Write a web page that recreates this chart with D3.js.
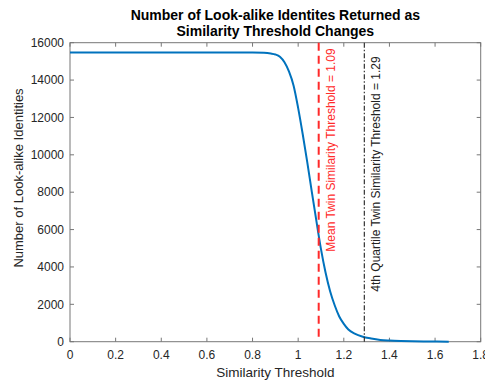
<!DOCTYPE html>
<html>
<head>
<meta charset="utf-8">
<script src="https://cdn.jsdelivr.net/npm/d3@7"></script>
<style>
  body { margin: 0; background: #fff; }
  text { font-family: "Liberation Sans", Arial, sans-serif; }
</style>
</head>
<body>
<div id="chart"></div>
<script>
// data
const thresholds = [0, 0.2, 0.4, 0.6, 0.8, 0.85, 0.88, 0.9, 0.92, 0.94, 0.96, 0.98, 1.0, 1.02, 1.04, 1.06, 1.08, 1.10, 1.12, 1.14, 1.16, 1.18, 1.20, 1.22, 1.25, 1.28, 1.32, 1.36, 1.40, 1.45, 1.50, 1.55, 1.60, 1.66];
const counts = [15480, 15480, 15480, 15480, 15475, 15460, 15420, 15370, 15250, 14950, 14450, 13700, 12500, 11100, 9600, 8000, 6450, 4950, 3700, 2700, 1950, 1350, 950, 650, 420, 280, 170, 95, 60, 35, 20, 12, 6, 3];
const xTicks = [0, 0.2, 0.4, 0.6, 0.8, 1, 1.2, 1.4, 1.6, 1.8];
const yTicks = [0, 2000, 4000, 6000, 8000, 10000, 12000, 14000, 16000];
const meanThreshold = 1.09;
const quartileThreshold = 1.29;

const W = 485, H = 381;
const margin = { top: 42.7, right: 4.3, bottom: 39.3, left: 70 };
const width = W - margin.left - margin.right,
      height = H - margin.top - margin.bottom;

const svg = d3.select("#chart").append("svg")
    .attr("width", W)
    .attr("height", H);

const g = svg.append("g")
    .attr("transform", "translate(" + margin.left + "," + margin.top + ")");

const x = d3.scaleLinear().domain([0, 1.8]).range([0, width]);
const y = d3.scaleLinear().domain([0, 16000]).range([height, 0]);

const axisColor = "#777";
const labelColor = "#262626";

// box
g.append("rect")
    .attr("width", width)
    .attr("height", height)
    .attr("fill", "none")
    .attr("stroke", axisColor)
    .attr("stroke-width", 1);

// ticks (inside, all four sides)
const tickLen = 4;
xTicks.forEach(function(t) {
    g.append("line").attr("x1", x(t)).attr("x2", x(t)).attr("y1", height).attr("y2", height - tickLen)
        .attr("stroke", axisColor);
    g.append("line").attr("x1", x(t)).attr("x2", x(t)).attr("y1", 0).attr("y2", tickLen)
        .attr("stroke", axisColor);
    g.append("text")
        .attr("x", x(t))
        .attr("y", height + 17)
        .attr("text-anchor", "middle")
        .attr("font-size", 12)
        .attr("fill", labelColor)
        .text(t);
});

yTicks.forEach(function(t) {
    g.append("line").attr("x1", 0).attr("x2", tickLen).attr("y1", y(t)).attr("y2", y(t))
        .attr("stroke", axisColor);
    g.append("line").attr("x1", width).attr("x2", width - tickLen).attr("y1", y(t)).attr("y2", y(t))
        .attr("stroke", axisColor);
    g.append("text")
        .attr("x", -6)
        .attr("y", y(t))
        .attr("dy", "0.35em")
        .attr("text-anchor", "end")
        .attr("font-size", 12)
        .attr("fill", labelColor)
        .text(t);
});

// curve
const data = thresholds.map(function(d, i) { return { t: d, n: counts[i] }; });
const line = d3.line()
    .x(function(d) { return x(d.t); })
    .y(function(d) { return y(d.n); })
    .curve(d3.curveMonotoneX);

g.append("path")
    .datum(data)
    .attr("fill", "none")
    .attr("stroke", "#0072BD")
    .attr("stroke-width", 2)
    .attr("d", line);

// threshold lines
g.append("line")
    .attr("x1", x(meanThreshold)).attr("x2", x(meanThreshold))
    .attr("y1", 0).attr("y2", height)
    .attr("stroke", "#ff2a2a")
    .attr("stroke-width", 2)
    .attr("stroke-dasharray", "8,5");

g.append("line")
    .attr("x1", x(quartileThreshold)).attr("x2", x(quartileThreshold))
    .attr("y1", 0).attr("y2", height)
    .attr("stroke", "#333")
    .attr("stroke-width", 1.2)
    .attr("stroke-dasharray", "5,2,1.5,2");

// line labels
g.append("text")
    .attr("transform", "translate(" + (x(meanThreshold) + 16) + "," + (251.7 - margin.top) + ")rotate(-90)")
    .attr("font-size", 12)
    .attr("fill", "#ff2a2a")
    .text("Mean Twin Similarity Threshold = " + meanThreshold);

g.append("text")
    .attr("transform", "translate(" + (x(quartileThreshold) + 16) + "," + (291.7 - margin.top) + ")rotate(-90)")
    .attr("font-size", 12)
    .attr("fill", "#222")
    .text("4th Quartile Twin Similarity Threshold = " + quartileThreshold);

// titles
svg.append("text")
    .attr("x", margin.left + width / 2)
    .attr("y", 19.5)
    .attr("text-anchor", "middle")
    .attr("font-size", 14)
    .attr("font-weight", "bold")
    .attr("fill", "#000")
    .text("Number of Look-alike Identites Returned as");

svg.append("text")
    .attr("x", margin.left + width / 2)
    .attr("y", 35.5)
    .attr("text-anchor", "middle")
    .attr("font-size", 14)
    .attr("font-weight", "bold")
    .attr("fill", "#000")
    .text("Similarity Threshold Changes");

svg.append("text")
    .attr("x", margin.left + width / 2)
    .attr("y", 377)
    .attr("text-anchor", "middle")
    .attr("font-size", 13.5)
    .attr("fill", labelColor)
    .text("Similarity Threshold");

svg.append("text")
    .attr("transform", "translate(23,178)rotate(-90)")
    .attr("text-anchor", "middle")
    .attr("font-size", 13)
    .attr("fill", labelColor)
    .text("Number of Look-alike Identities");
</script>
</body>
</html>
